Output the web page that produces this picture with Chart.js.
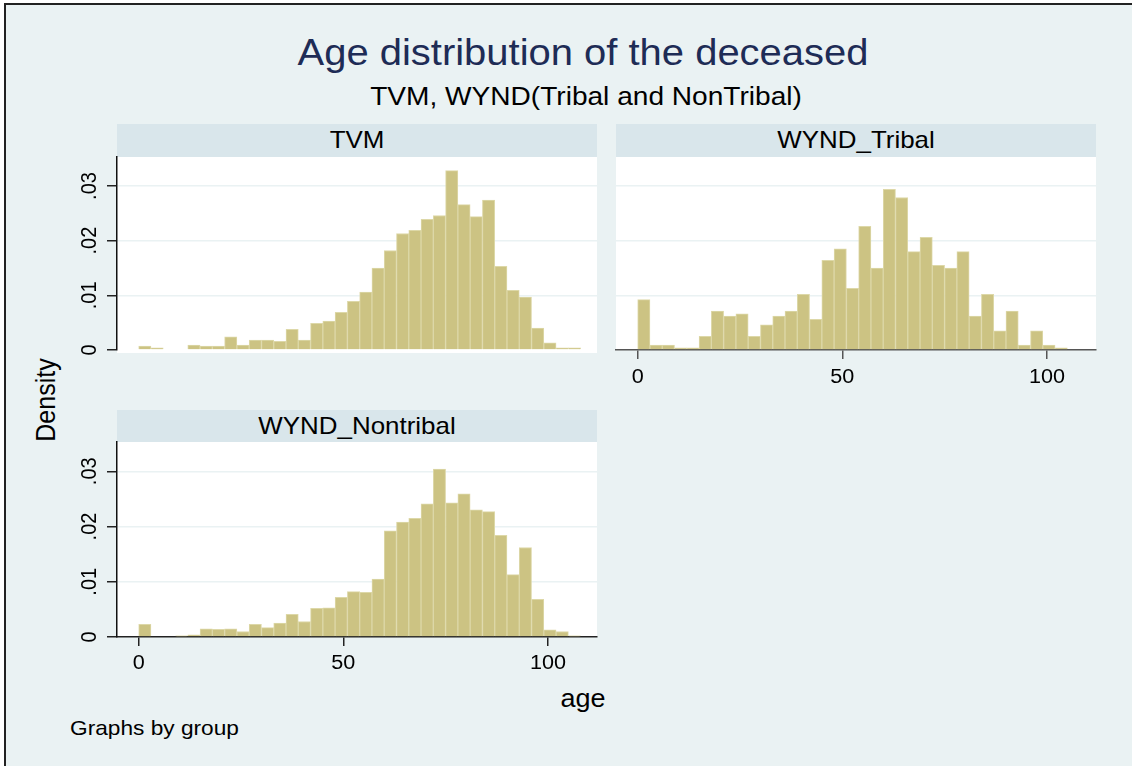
<!DOCTYPE html>
<html>
<head>
<meta charset="utf-8">
<title>Age distribution of the deceased</title>
<script src="https://cdn.jsdelivr.net/npm/chart.js"></script>
<style>
  body { margin: 0; background: #fff; font-family: "Liberation Sans", Arial, sans-serif; }
  #page { position: relative; width: 1132px; height: 766px; overflow: hidden; }
  #frame { position: absolute; left: 4px; top: 3px; width: 1200px; height: 900px;
           border-left: 2px solid #222; border-top: 2px solid #222; background: #EAF2F3; }
  .txt { position: absolute; white-space: nowrap; line-height: 1; color: #000;
         transform: translate(-50%, -50%) scaleX(1.08); }
  .strip { position: absolute; background: #D9E6EB; }
  canvas { position: absolute; }
</style>
</head>
<body>
<div id="page">
  <div id="frame"></div>

  <div class="txt" style="left:583px; top:52px; font-size:37px; color:#1E2C56;">Age distribution of the deceased</div>
  <div class="txt" style="left:586px; top:96px; font-size:26px;">TVM, WYND(Tribal and NonTribal)</div>

  <div class="strip" style="left:117px; top:124px; width:480px; height:33px;"></div>
  <div class="strip" style="left:616px; top:124px; width:480px; height:33px;"></div>
  <div class="strip" style="left:117px; top:410px; width:480px; height:32px;"></div>
  <div class="txt" style="left:357px; top:140px; font-size:24px;">TVM</div>
  <div class="txt" style="left:856px; top:140px; font-size:24px;">WYND_Tribal</div>
  <div class="txt" style="left:357px; top:426px; font-size:24px;">WYND_Nontribal</div>

  <div class="txt" style="left:46px; top:400px; font-size:25px; transform:translate(-50%,-50%) rotate(-90deg) scaleY(1.08);">Density</div>
  <div class="txt" style="left:583px; top:698px; font-size:25px;">age</div>
  <div class="txt" style="left:70px; top:727px; font-size:21px; transform-origin:left center; transform:translateY(-50%) scaleX(1.08);">Graphs by group</div>

  <canvas id="tvm" width="557" height="210" style="left:40px; top:150px;"></canvas>
  <canvas id="tribal" width="510" height="250" style="left:600px; top:150px;"></canvas>
  <canvas id="nontribal" width="570" height="260" style="left:40px; top:435px;"></canvas>
</div>

<script>
// histogram bins (lower edge, width 3 years)
var binStart = [0,3,6,9,12,15,18,21,24,27,30,33,36,39,42,45,48,51,54,57,60,63,66,69,72,75,78,81,84,87,90,93,96,99,102,105];
var binWidth = 3;

// density per bin
var tvmDensity = [0.0007,0.0004,0,0,0.0009,0.0007,0.0007,0.0024,0.0009,0.0018,0.0018,0.0016,
                  0.0038,0.0018,0.0049,0.0053,0.0069,0.0089,0.0106,0.0150,0.0182,0.0213,0.0219,0.0239,
                  0.0246,0.0328,0.0266,0.0244,0.0274,0.0153,0.0109,0.0097,0.0040,0.0013,0.0004,0.0004];
var tribalDensity = [0.0092,0.0009,0.0009,0.0004,0.0004,0.0025,0.0071,0.0062,0.0066,0.0025,0.0046,0.0062,
                     0.0071,0.0102,0.0056,0.0164,0.0185,0.0113,0.0226,0.0150,0.0294,0.0279,0.0180,0.0206,
                     0.0155,0.0150,0.0180,0.0062,0.0102,0.0035,0.0071,0.0009,0.0035,0.0009,0.0004,0];
var nontribalDensity = [0.0023,0,0,0.0002,0.0004,0.0015,0.0014,0.0015,0.0010,0.0023,0.0017,0.0025,
                        0.0041,0.0028,0.0052,0.0053,0.0072,0.0082,0.0081,0.0105,0.0192,0.0208,0.0215,0.0241,
                        0.0304,0.0243,0.0259,0.0230,0.0227,0.0184,0.0113,0.0162,0.0068,0.0013,0.0010,0.0002];

var xTickValues = [0, 50, 100];
var yTickValues = [0, 0.01, 0.02, 0.03];
var xMin = -5.3, xMax = 112;
var yMax = 0.0353;

function yLabel(v) {
  if (v === 0) return '0';
  return v.toFixed(2).slice(1);
}

// white plot region + tick labels drawn at the scale positions
function panelDeco(cfg) {
  return {
    id: 'panelDeco',
    beforeDraw: function(chart) {
      var a = chart.chartArea, ctx = chart.ctx;
      ctx.save();
      ctx.fillStyle = '#fff';
      ctx.fillRect(a.left, a.top, a.right - a.left, a.bottom - a.top + cfg.whiteBelow);
      ctx.restore();
    },
    afterDraw: function(chart) {
      var ctx = chart.ctx;
      ctx.save();
      ctx.fillStyle = '#000';
      ctx.font = '20px "Liberation Sans", Arial, sans-serif';
      ctx.textAlign = 'center';
      ctx.textBaseline = 'middle';
      if (cfg.showY) {
        var ys = chart.scales.y;
        ys.ticks.forEach(function(t) {
          ctx.save();
          ctx.translate(cfg.yLabelX, ys.getPixelForValue(t.value));
          ctx.rotate(-Math.PI / 2);
          ctx.scale(1, 1.08);
          ctx.fillText(yLabel(t.value), 0, 0);
          ctx.restore();
        });
      }
      if (cfg.showX) {
        var xs = chart.scales.x;
        xs.ticks.forEach(function(t) {
          ctx.save();
          ctx.translate(xs.getPixelForValue(t.value), cfg.xLabelY);
          ctx.scale(1.08, 1);
          ctx.fillText(String(t.value), 0, 0);
          ctx.restore();
        });
      }
      ctx.restore();
    }
  };
}

function makePanel(id, values, cfg) {
  var points = [];
  for (var i = 0; i < binStart.length; i++) {
    points.push({ x: binStart[i] + binWidth / 2, y: values[i] === 0 ? null : values[i] });
  }

  return new Chart(document.getElementById(id), {
    type: 'bar',
    data: {
      datasets: [{
        label: id,
        data: points,
        backgroundColor: '#CCC383',
        borderColor: '#DDD8A8',
        borderWidth: 1,
        barPercentage: 1,
        categoryPercentage: 1
      }]
    },
    options: {
      responsive: false,
      animation: false,
      layout: { padding: cfg.padding },
      plugins: { legend: { display: false }, tooltip: { enabled: false }, title: { display: false } },
      scales: {
        x: {
          type: 'linear',
          min: xMin,
          max: xMax,
          bounds: 'data',
          offset: false,
          display: cfg.showX,
          afterBuildTicks: function(s) { s.ticks = xTickValues.map(function(v) { return { value: v }; }); },
          afterFit: function(s) { s.height = cfg.xHeight; },
          ticks: { display: false },
          grid: { offset: false, drawOnChartArea: false, drawTicks: true, tickLength: 9, tickColor: cfg.xAxisColor, lineWidth: 1.5 },
          border: { display: true, color: cfg.xAxisColor, width: 1.5 }
        },
        y: {
          type: 'linear',
          min: 0,
          max: yMax,
          bounds: 'data',
          afterBuildTicks: function(s) { s.ticks = yTickValues.map(function(v) { return { value: v }; }); },
          afterFit: function(s) { s.width = cfg.yWidth; },
          ticks: { display: false },
          grid: {
            color: function(c) { return c.tick && c.tick.value === 0 ? 'rgba(0,0,0,0)' : '#EAF2F3'; },
            lineWidth: 1.5,
            drawTicks: cfg.showY,
            tickLength: 10,
            tickColor: '#222'
          },
          border: { display: cfg.showY, color: '#111', width: 1.5 }
        }
      }
    },
    plugins: [panelDeco(cfg)]
  });
}

makePanel('tvm', tvmDensity, {
  padding: { top: 7, right: 0, bottom: 10, left: 0 },
  showX: false, showY: true, xHeight: 0, yWidth: 77,
  yLabelX: 50, xLabelY: 0, xAxisColor: '#333', whiteBelow: 3
});

makePanel('tribal', tribalDensity, {
  padding: { top: 7, right: 14, bottom: 0, left: 0 },
  showX: true, showY: false, xHeight: 50, yWidth: 16,
  yLabelX: 0, xLabelY: 227, xAxisColor: '#555', whiteBelow: 0
});

makePanel('nontribal', nontribalDensity, {
  padding: { top: 7, right: 13, bottom: 0, left: 0 },
  showX: true, showY: true, xHeight: 58, yWidth: 77,
  yLabelX: 50, xLabelY: 228.5, xAxisColor: '#222', whiteBelow: 0
});
</script>
</body>
</html>
